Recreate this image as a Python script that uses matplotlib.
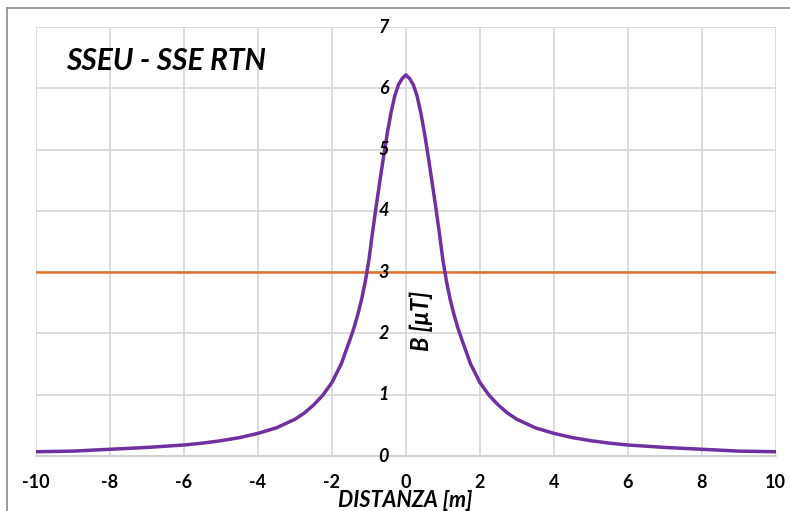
import matplotlib.pyplot as plt
from matplotlib.lines import Line2D

# field B [uT] vs distance [m], read off the right half of the chart
# (the profile is symmetric about 0)
half_dist = [0, 0.1, 0.2, 0.3, 0.4, 0.5, 0.6, 0.7, 0.8, 0.9, 1.0, 1.1, 1.2, 1.3,
             1.4, 1.5, 1.75, 2.0, 2.25, 2.5, 2.75, 3.0, 3.5, 4, 4.5, 5, 5.5, 6,
             7, 8, 9, 10]
half_b = [6.22, 6.16, 6.06, 5.88, 5.61, 5.28, 4.90, 4.50, 4.09, 3.66, 3.20, 2.84,
          2.55, 2.31, 2.10, 1.92, 1.50, 1.20, 0.99, 0.83, 0.70, 0.60, 0.46, 0.37,
          0.30, 0.25, 0.21, 0.18, 0.14, 0.11, 0.08, 0.07]
dist = [-d for d in half_dist[:0:-1]] + half_dist
b_field = half_b[:0:-1] + half_b
limit = 3
x_ticks = [-10, -8, -6, -4, -2, 0, 2, 4, 6, 8, 10]
y_ticks = [0, 1, 2, 3, 4, 5, 6, 7]

plt.rcParams['font.family'] = ['Lato', 'DejaVu Sans']

fig = plt.figure(figsize=(7.9, 5.11), dpi=100)
ax = fig.add_axes([0.0456, 0.1076, 0.9364, 0.8394])

ax.plot(dist, b_field, color='#7030A0', lw=2.5, zorder=3,
        solid_joinstyle='round')
ax.axhline(limit, color='#DD7230', lw=1.8, zorder=2)

ax.set_xlim(-10, 10)
ax.set_ylim(0, 7)
ax.set_xticks(x_ticks)
ax.set_yticks(y_ticks)
ax.grid(True, color='#d9d9d9', lw=1.3)
ax.set_axisbelow(True)
for s in ax.spines.values():
    s.set_visible(False)
ax.spines['bottom'].set_visible(True)
ax.spines['bottom'].set_color('#d0d0d0')
ax.spines['bottom'].set_linewidth(1.3)

ax.tick_params(length=0)
ax.set_xticklabels([str(v) for v in x_ticks], fontsize=13, fontweight='bold')
ax.tick_params(axis='x', pad=13)
ax.set_yticklabels([])
for v in y_ticks:
    ax.text(-0.46, v, str(v), ha='right', va='center', fontsize=13,
            fontweight='bold', style='italic')

ax.text(-9.2, 6.45, 'SSEU - SSE RTN', fontsize=21.5, fontweight='bold',
        style='italic', ha='left', va='center')
ax.text(0.43, 2.2, 'B [μT]', rotation=90, fontsize=17, fontweight='bold',
        style='italic', ha='center', va='center')
fig.text(0.513, 0.02, 'DISTANZA [m]', fontsize=15.5, fontweight='bold',
         style='italic', ha='center', va='center')

# chart frame
fig.add_artist(Line2D([7/790, 7/790], [0, 1 - 8/511], color='#8a8a8a', lw=1.2,
                      transform=fig.transFigure))
fig.add_artist(Line2D([7/790, 1], [1 - 8/511, 1 - 8/511], color='#8a8a8a', lw=1.2,
                      transform=fig.transFigure))

fig.savefig('out.png', dpi=100)
